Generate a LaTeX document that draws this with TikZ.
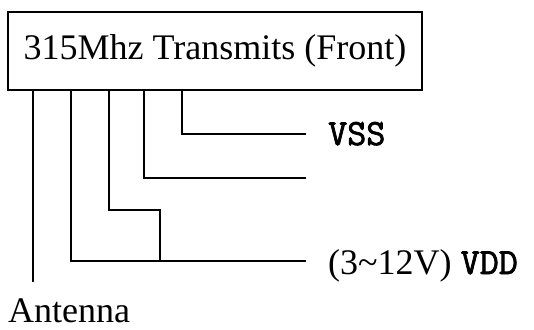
\documentclass[tikz,border=0pt]{standalone}
\usepackage{fontspec}
\setmainfont{Liberation Serif}
\newfontfamily\pinfont[FakeBold=2]{Latin Modern Mono}
\begin{document}
\begin{tikzpicture}[x=1pt,y=-1pt,
  wire/.style={line width=1.1pt},
  lbl/.style={inner sep=0pt, anchor=base west},
  big/.style={font=\fontsize{36}{40}\selectfont},
  pinlbl/.style={font=\pinfont\fontsize{37}{40}\selectfont}]
\useasboundingbox (0,0) rectangle (534,329);
\node[draw, line width=1.1pt, minimum width=414pt, minimum height=78pt, inner sep=0pt, big] (box) at (215,51) {315Mhz Transmits (Front)};
\coordinate (p1) at (33,90);
\coordinate (p2) at (71,90);
\coordinate (p3) at (109,90);
\coordinate (p4) at (144,90);
\coordinate (p5) at (182,90);
\coordinate (a1) at (33,282);
\coordinate (e5) at (306,134);
\coordinate (e4) at (306,178);
\coordinate (e2) at (306,261);
\coordinate (k) at (160,210);
\coordinate (j) at (160,261);
\draw[wire] (p5) |- (e5);
\draw[wire] (p4) |- (e4);
\draw[wire] (p3) |- (k) -- (j);
\draw[wire] (p2) |- (e2);
\draw[wire] (p1) -- (a1);
\node[lbl, pinlbl] (vss) at (328,145) {VSS};
\node[lbl, big] (vdd) at (328,274) {(3\textasciitilde 12V)\ {\pinfont\fontsize{37}{40}\selectfont VDD}};
\node[lbl, big] (ant) at (8,322) {Antenna};
\end{tikzpicture}
\end{document}
